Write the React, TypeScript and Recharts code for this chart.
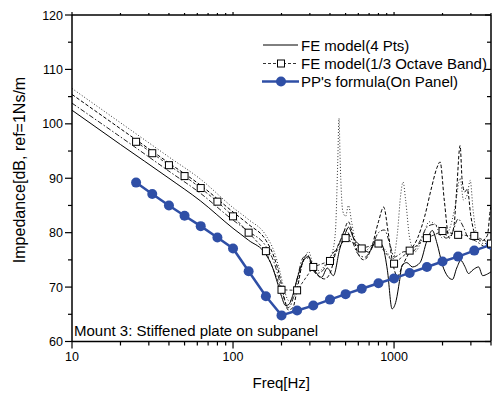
import React from 'react';
import { LineChart, Line, XAxis, YAxis } from 'recharts';

const FONT = '"Liberation Sans", Arial, Helvetica, sans-serif';
const BLUE = '#2f4fa6';

// ---- axis ticks ----
const xTicks = [10, 20, 30, 40, 50, 60, 70, 80, 90, 100, 200, 300, 400, 500, 600, 700, 800, 900, 1000, 2000, 3000, 4000];
const xMajor = [10, 100, 1000];
const yTicks = [60, 65, 70, 75, 80, 85, 90, 95, 100, 105, 110, 115, 120];
const yMajor = [60, 70, 80, 90, 100, 110, 120];

// ---- 1/3 octave band data ----
const bandFreqs = [25, 31.5, 40, 50, 63, 80, 100, 125, 160, 200, 250, 315, 400, 500, 630, 800, 1000, 1250, 1600, 2000, 2500, 3150, 4000];
const octaveValues = [96.7, 94.6, 92.4, 90.4, 88.2, 85.7, 83.0, 80.0, 76.6, 69.5, 69.4, 73.7, 74.8, 79.0, 77.1, 78.0, 74.3, 76.7, 79.0, 80.3, 79.6, 79.4, 78.0];
const ppValues = [89.2, 87.1, 85.0, 83.1, 81.2, 79.1, 77.1, 72.9, 68.3, 64.8, 65.7, 66.6, 67.7, 68.7, 69.7, 70.7, 71.6, 72.6, 73.7, 74.7, 75.6, 76.7, 77.8];

// ---- FE model, 4 points (narrow band) ----
const freqA = [10, 20, 40, 63, 100, 125, 160, 175, 190, 200, 212, 222, 235, 250, 270, 293, 320, 355, 385, 420, 460, 500, 521, 560, 631, 695, 783, 850, 910, 972, 1030, 1080, 1122, 1200, 1300, 1450, 1600, 1728, 1850, 2000, 2150, 2305, 2450, 2600, 2750, 2900, 3100, 3350, 3550, 3800, 4000];
const valA = [102.5, 96.2, 90.0, 85.8, 80.8, 78.6, 76.0, 73.8, 70.5, 68.3, 66.6, 66.8, 68.5, 71.5, 74.5, 75.6, 73.2, 71.8, 73.5, 72.1, 77.0, 80.0, 81.0, 79.0, 77.4, 76.4, 78.6, 77.5, 73.0, 66.0, 67.5, 71.0, 74.0, 74.5, 73.7, 74.5, 78.5, 80.4, 78.0, 74.0, 72.0, 71.4, 73.5, 74.9, 73.8, 72.5, 73.2, 73.7, 72.1, 72.4, 72.8];

const freqB = [10, 20, 40, 63, 100, 125, 160, 180, 195, 208, 220, 232, 250, 275, 300, 330, 360, 400, 450, 500, 540, 600, 660, 720, 800, 870, 950, 1000, 1080, 1150, 1300, 1450, 1600, 1750, 1900, 2100, 2300, 2500, 2700, 2900, 3200, 3600, 4000];
const valB = [103.8, 97.6, 91.3, 87.2, 82.3, 80.2, 77.5, 74.5, 71.0, 67.8, 66.2, 67.2, 71.5, 75.5, 75.0, 72.5, 73.0, 75.5, 77.5, 80.5, 79.0, 76.0, 75.5, 77.0, 80.0, 80.5, 77.5, 75.5, 76.0, 76.5, 76.5, 78.5, 81.0, 81.5, 81.0, 79.0, 80.0, 82.5, 81.0, 79.0, 78.5, 77.5, 77.0];

const freqC = [10, 20, 40, 63, 100, 125, 160, 180, 195, 208, 220, 235, 250, 270, 290, 310, 340, 370, 400, 440, 480, 520, 560, 600, 650, 720, 800, 862, 920, 980, 1050, 1130, 1250, 1400, 1550, 1700, 1850, 1932, 2050, 2200, 2350, 2450, 2571, 2650, 2750, 2850, 3000, 3200, 3500, 3800, 3950, 4000];
const valC = [105.4, 99.1, 92.8, 88.7, 83.8, 81.5, 78.6, 75.5, 72.0, 68.0, 65.8, 66.2, 69.5, 74.5, 76.0, 73.5, 72.0, 71.5, 72.5, 77.0, 79.5, 82.0, 79.0, 76.0, 75.0, 77.0, 82.0, 84.7, 80.0, 74.5, 72.0, 74.0, 76.5, 79.0, 83.0, 88.0, 92.0, 93.0, 86.0, 79.0, 81.0, 88.0, 96.0, 89.5, 87.5, 88.0, 83.0, 79.5, 78.5, 79.5, 84.0, 85.0];

const freqD = [10, 20, 40, 63, 100, 125, 160, 180, 195, 208, 222, 238, 255, 275, 295, 315, 345, 380, 410, 432, 447, 455, 463, 480, 500, 521, 545, 580, 650, 720, 800, 900, 980, 1050, 1100, 1138, 1180, 1250, 1350, 1500, 1650, 1800, 2000, 2200, 2400, 2571, 2700, 2850, 2970, 3100, 3300, 3600, 4000];
const valD = [106.5, 100.2, 93.9, 89.8, 84.6, 82.4, 79.5, 76.5, 73.0, 69.5, 67.5, 68.0, 71.5, 75.0, 76.5, 74.0, 73.0, 74.5, 76.0, 80.0, 93.0, 101.0, 93.0, 84.0, 83.0, 85.0, 82.0, 78.0, 76.5, 77.5, 78.0, 76.5, 75.0, 80.0, 87.0, 89.3, 86.0, 79.0, 76.5, 79.0, 82.0, 81.5, 79.0, 80.5, 85.0, 90.0, 86.0, 87.0, 89.6, 84.0, 79.0, 78.0, 78.0];

const toRows = (fs: number[], vs: number[]) => fs.map((f, i) => ({ f, v: vs[i] }));

const rowsA = toRows(freqA, valA);
const rowsB = toRows(freqB, valB);
const rowsC = toRows(freqC, valC);
const rowsD = toRows(freqD, valD);
const rowsOct = toRows(bandFreqs, octaveValues);
const rowsPP = toRows(bandFreqs, ppValues);

const BottomTick = (props: any) => {
  const { x, y, payload } = props;
  const major = xMajor.includes(payload.value);
  return (
    <g>
      <line x1={x} x2={x} y1={y} y2={y + (major ? 7 : 4)} stroke="#000" strokeWidth={1.2} />
      {major && (
        <text x={x} y={y + 19.5} textAnchor="middle" fontSize={12.5} fontFamily={FONT} fill="#000">
          {payload.value}
        </text>
      )}
    </g>
  );
};

const TopTick = (props: any) => {
  const { x, y, payload } = props;
  const major = xMajor.includes(payload.value);
  return <line x1={x} x2={x} y1={y} y2={y - (major ? 3 : 2)} stroke="#000" strokeWidth={1.2} />;
};

const LeftTick = (props: any) => {
  const { x, y, payload } = props;
  const major = yMajor.includes(payload.value);
  return (
    <g>
      <line x1={x} x2={x - (major ? 7 : 4)} y1={y} y2={y} stroke="#000" strokeWidth={1.2} />
      {major && (
        <text x={x - 9} y={y + 4.5} textAnchor="end" fontSize={12.5} fontFamily={FONT} fill="#000">
          {payload.value}
        </text>
      )}
    </g>
  );
};

const RightTick = (props: any) => {
  const { x, y, payload } = props;
  const major = yMajor.includes(payload.value);
  return <line x1={x} x2={x - (major ? 6 : 4)} y1={y} y2={y} stroke="#000" strokeWidth={1.2} />;
};

const SquareDot = (props: any) => {
  const { cx, cy, index } = props;
  if (cx == null || cy == null) return <g key={index} />;
  return <rect key={index} x={cx - 3.5} y={cy - 3.5} width={7} height={7} fill="#fff" stroke="#000" strokeWidth={1} />;
};

export default function App() {
  const axisLine = { stroke: '#000', strokeWidth: 1.5 };
  return (
    <div style={{ position: 'absolute', left: 0, top: 0, width: 501, height: 394, background: '#fff' }}>
      <LineChart width={501} height={394} margin={{ top: 0, right: 0, left: 12, bottom: 22.5 }}>
        <XAxis
          dataKey="f"
          type="number"
          scale="log"
          domain={[10, 4000]}
          allowDataOverflow
          ticks={xTicks}
          interval={0}
          height={30}
          tickSize={0}
          tickMargin={0}
          tickLine={false}
          axisLine={axisLine}
          tick={<BottomTick />}
        />
        <XAxis
          xAxisId="top"
          orientation="top"
          dataKey="f"
          type="number"
          scale="log"
          domain={[10, 4000]}
          allowDataOverflow
          ticks={xTicks}
          interval={0}
          height={15}
          tickSize={0}
          tickMargin={0}
          tickLine={false}
          axisLine={axisLine}
          tick={<TopTick />}
        />
        <YAxis
          type="number"
          domain={[60, 120]}
          allowDataOverflow
          ticks={yTicks}
          interval={0}
          width={60}
          tickSize={0}
          tickMargin={0}
          tickLine={false}
          axisLine={axisLine}
          tick={<LeftTick />}
        />
        <YAxis
          yAxisId="right"
          orientation="right"
          type="number"
          domain={[60, 120]}
          allowDataOverflow
          ticks={yTicks}
          interval={0}
          width={10}
          tickSize={0}
          tickMargin={0}
          tickLine={false}
          axisLine={axisLine}
          tick={<RightTick />}
        />
        <Line data={rowsD} dataKey="v" type="monotone" stroke="#333" strokeWidth={1} strokeDasharray="1 2" dot={false} isAnimationActive={false} />
        <Line data={rowsC} dataKey="v" type="monotone" stroke="#000" strokeWidth={1} strokeDasharray="3.5 2" dot={false} isAnimationActive={false} />
        <Line data={rowsB} dataKey="v" type="monotone" stroke="#222" strokeWidth={1} strokeDasharray="5 2 1.5 2" dot={false} isAnimationActive={false} />
        <Line data={rowsA} dataKey="v" type="monotone" stroke="#000" strokeWidth={1} dot={false} isAnimationActive={false} />
        <Line data={rowsPP} dataKey="v" type="linear" stroke={BLUE} strokeWidth={2.5} dot={{ r: 5, fill: BLUE, stroke: BLUE, strokeWidth: 0 }} isAnimationActive={false} />
        <Line data={rowsOct} dataKey="v" type="linear" stroke="#000" strokeWidth={0.8} strokeDasharray="3 2" dot={<SquareDot />} isAnimationActive={false} />
      </LineChart>
      <svg width={501} height={394} style={{ position: 'absolute', left: 0, top: 0, pointerEvents: 'none' }}>
        <text transform="translate(25,170) rotate(-90)" textAnchor="middle" fontSize={16} fontFamily={FONT} fill="#000">
          Impedance[dB, ref=1Ns/m
        </text>
        <text x={281.3} y={387.5} textAnchor="middle" fontSize={15} fontFamily={FONT} fill="#000">
          Freq[Hz]
        </text>
        <text x={74} y={336} fontSize={15} fontFamily={FONT} fill="#000">
          Mount 3: Stiffened plate on subpanel
        </text>
        <g fontFamily={FONT} fontSize={15} fill="#000">
          <line x1={263} x2={298} y1={45} y2={45} stroke="#000" strokeWidth={1} />
          <text x={301} y={50.5}>FE model(4 Pts)</text>
          <line x1={263} x2={298} y1={63.5} y2={63.5} stroke="#000" strokeWidth={0.8} strokeDasharray="3 2" />
          <rect x={277.5} y={60} width={7} height={7} fill="#fff" stroke="#000" strokeWidth={1} />
          <text x={301} y={69}>FE model(1/3 Octave Band)</text>
          <line x1={262} x2={299} y1={81.5} y2={81.5} stroke={BLUE} strokeWidth={2.5} />
          <circle cx={281} cy={81.5} r={5} fill={BLUE} />
          <text x={301} y={87}>PP's formula(On Panel)</text>
        </g>
      </svg>
    </div>
  );
}
